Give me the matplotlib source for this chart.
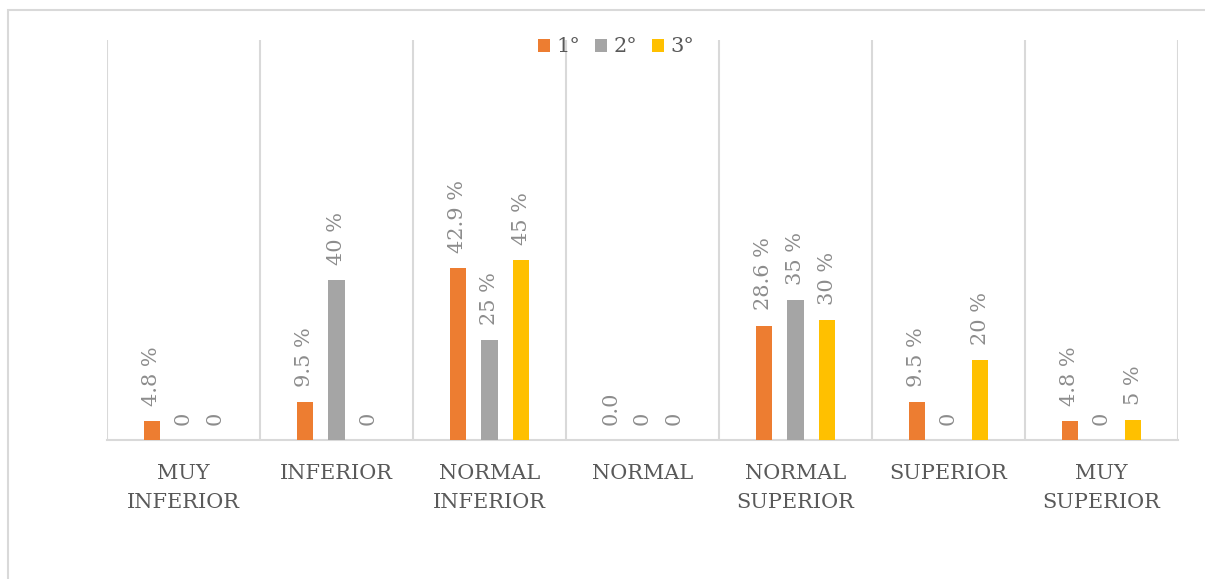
import numpy as np
import matplotlib
matplotlib.use('Agg')
import matplotlib.pyplot as plt
from matplotlib.patches import Rectangle

categories = ['MUY\nINFERIOR', 'INFERIOR', 'NORMAL\nINFERIOR', 'NORMAL',
              'NORMAL\nSUPERIOR', 'SUPERIOR', 'MUY\nSUPERIOR']
series_names = ['1°', '2°', '3°']
grade_1 = [4.8, 9.5, 42.9, 0.0, 28.6, 9.5, 4.8]
grade_2 = [0, 40, 25, 0, 35, 0, 0]
grade_3 = [0, 0, 45, 0, 30, 20, 5]
colors = ['#ED7D31', '#A5A5A5', '#FFC000']

plt.rcParams['font.family'] = ['DejaVu Serif']

fig = plt.figure(figsize=(12.05, 5.79), dpi=100)
ax = fig.add_axes([107 / 1205, 1 - 440 / 579, (1178 - 107) / 1205, 400 / 579])

x = np.arange(len(categories))
width = 0.108
step = 0.206


def fmt(v, decimals):
    if v == 0:
        return f'{v:.{decimals}f}'
    return f'{v:.{decimals}f} %'


for i, (vals, dec) in enumerate([(grade_1, 1), (grade_2, 0), (grade_3, 0)]):
    pos = x + (i - 1) * step
    ax.bar(pos, vals, width, color=colors[i], label=series_names[i], zorder=3)
    for p, v in zip(pos, vals):
        ax.annotate(fmt(v, dec), (p, v), xytext=(0, 11), textcoords='offset points',
                    rotation=90, ha='center', va='bottom', fontsize=15,
                    color='#8C8C8C')

ax.set_xlim(-0.5, len(categories) - 0.5)
ax.set_ylim(0, 100)
ax.set_yticks([])
ax.set_xticks(x)
ax.set_xticklabels(categories, fontsize=15, color='#595959', linespacing=1.7)
ax.tick_params(axis='x', length=0, pad=17)
ax.set_xticks(np.arange(-0.5, len(categories)), minor=True)
ax.tick_params(axis='x', which='minor', length=0)
ax.grid(axis='x', which='minor', color='#D9D9D9', linewidth=1.5, zorder=0)
for side in ['left', 'right', 'top']:
    ax.spines[side].set_visible(False)
ax.spines['bottom'].set_color('#D9D9D9')
ax.spines['bottom'].set_linewidth(1.5)

leg = fig.legend(loc='center', bbox_to_anchor=(616 / 1205, 1 - 47 / 579), ncol=3,
                 frameon=False, fontsize=15, handlelength=0.6, handleheight=0.6,
                 handletextpad=0.3, columnspacing=0.7, borderpad=0)
for t in leg.get_texts():
    t.set_color('#595959')

fig.add_artist(Rectangle((8 / 1205, -0.1), 1.2, 1.1 - 10 / 579, transform=fig.transFigure,
                         fill=False, edgecolor='#D9D9D9', linewidth=1.5, clip_on=False))

fig.savefig('out.png', dpi=100)
